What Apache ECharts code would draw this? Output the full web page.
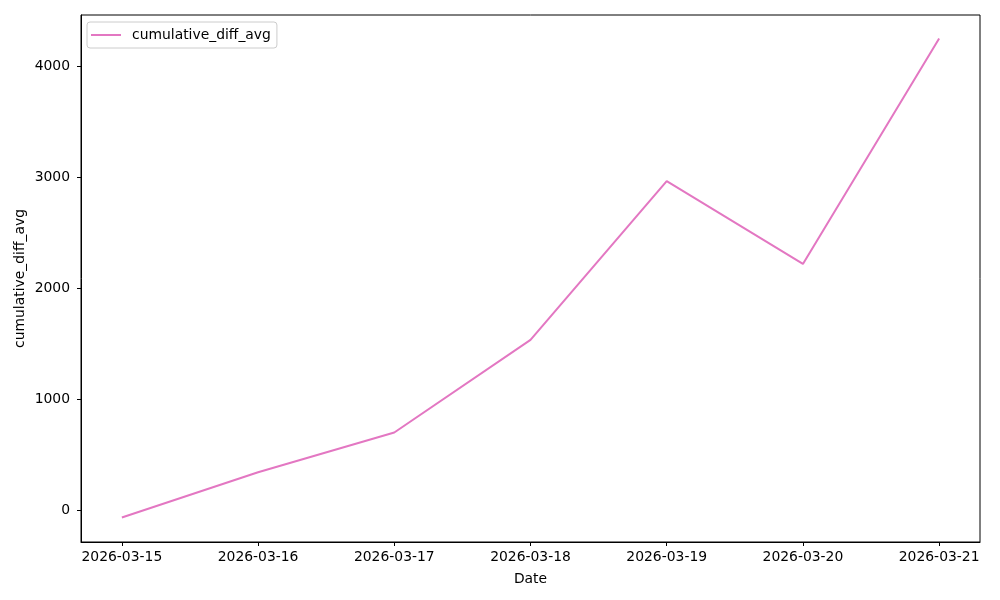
<!DOCTYPE html>
<html>
<head>
<meta charset="utf-8">
<script src="https://cdn.jsdelivr.net/npm/echarts@6/dist/echarts.min.js"></script>
<style>
  html, body { margin: 0; padding: 0; background: #fff; }
  #chart { width: 1000px; height: 600px; }
</style>
</head>
<body>
<div id="chart"></div>
<script>
// data
var dates = ["2026-03-15", "2026-03-16", "2026-03-17", "2026-03-18", "2026-03-19", "2026-03-20", "2026-03-21"];
var cumulativeDiffAvg = [-65, 343, 701, 1536, 2966, 2220, 4253];
var yTicks = [0, 1000, 2000, 3000, 4000];
var xTicks = [0, 1, 2, 3, 4, 5, 6];

var font = "DejaVu Sans";
var fs = 13.9;

var points = cumulativeDiffAvg.map(function (v, i) {
  return [i, v];
});

var chart = echarts.init(document.getElementById("chart"), null, { renderer: "canvas" });
chart.setOption({
  animation: false,
  backgroundColor: "#fff",
  textStyle: { fontFamily: font },
  grid: {
    left: 81,
    right: 20,
    top: 15,
    bottom: 58,
    show: true,
    borderColor: "#000",
    borderWidth: 1,
    containLabel: false
  },
  legend: {
    left: 87,
    top: 22,
    orient: "vertical",
    icon: "rect",
    itemWidth: 30,
    itemHeight: 2,
    padding: [6, 6, 6, 4],
    borderColor: "#cccccc",
    borderWidth: 1,
    borderRadius: 3,
    textStyle: { fontFamily: font, fontSize: fs, color: "#000", padding: [0, 0, 0, 6] },
    data: ["cumulative_diff_avg"]
  },
  xAxis: {
    type: "value",
    min: -0.3,
    max: 6.3,
    name: "Date",
    nameLocation: "middle",
    nameGap: 30,
    nameTextStyle: { fontFamily: font, fontSize: fs, color: "#000" },
    axisLine: { show: true, onZero: false, lineStyle: { color: "#000", width: 1 } },
    axisTick: { show: true, length: 4, customValues: xTicks, lineStyle: { color: "#000" } },
    axisLabel: {
      customValues: xTicks,
      fontFamily: font,
      fontSize: fs,
      color: "#000",
      margin: 8,
      formatter: function (v) {
        return dates[Math.round(v)];
      }
    },
    splitLine: { show: false }
  },
  yAxis: {
    type: "value",
    min: -286,
    max: 4464,
    name: "cumulative_diff_avg",
    nameLocation: "middle",
    nameGap: 54,
    nameMoveOverlap: false,
    nameRotate: 90,
    nameTextStyle: { fontFamily: font, fontSize: fs, color: "#000" },
    axisLine: { show: true, onZero: false, lineStyle: { color: "#000", width: 1 } },
    axisTick: { show: true, length: 4, customValues: yTicks, lineStyle: { color: "#000" } },
    axisLabel: {
      customValues: yTicks,
      fontFamily: font,
      fontSize: fs,
      color: "#000",
      margin: 11,
      formatter: function (v) {
        return String(v);
      }
    },
    splitLine: { show: false }
  },
  series: [
    {
      name: "cumulative_diff_avg",
      type: "line",
      data: points,
      symbol: "none",
      lineStyle: { color: "#e377c2", width: 2 },
      itemStyle: { color: "#e377c2" }
    }
  ]
});
</script>
</body>
</html>
